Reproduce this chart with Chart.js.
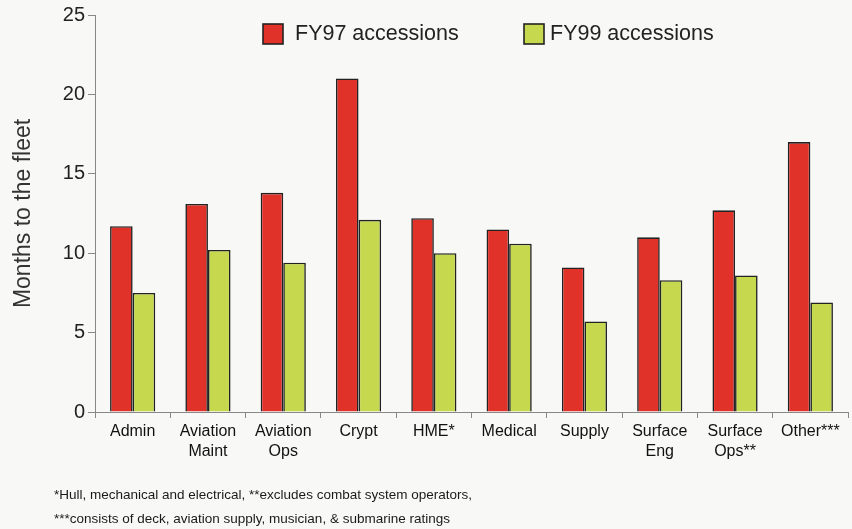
<!DOCTYPE html>
<html>
<head>
<meta charset="utf-8">
<script src="https://cdn.jsdelivr.net/npm/chart.js@4/dist/chart.umd.min.js"></script>
<style>
  html, body { margin: 0; padding: 0; background: #f8f8f6; }
  #wrap { position: relative; width: 852px; height: 529px; }
  #grafico { position: absolute; left: 0; top: 0; }
  .nota { position: absolute; left: 54px; font-family: "Liberation Sans", Arial, sans-serif; font-size: 13.5px; color: #1a1a1a; }
</style>
</head>
<body>
<div id="wrap">
  <canvas id="grafico" width="852" height="529"></canvas>
  <div class="nota" style="top:487px">*Hull, mechanical and electrical, **excludes combat system operators,</div>
  <div class="nota" style="top:511px">***consists of deck, aviation supply, musician, &amp; submarine ratings</div>
</div>
<script>
var categorias = ['Admin', ['Aviation', 'Maint'], ['Aviation', 'Ops'], 'Crypt', 'HME*', 'Medical', 'Supply', ['Surface', 'Eng'], ['Surface', 'Ops**'], 'Other***'];
var fy97 = [11.7, 13.1, 13.8, 21.0, 12.2, 11.5, 9.1, 11.0, 12.7, 17.0];
var fy99 = [7.5, 10.2, 9.4, 12.1, 10.0, 10.6, 5.7, 8.3, 8.6, 6.9];
var ticksY = [0, 5, 10, 15, 20, 25];

document.addEventListener('DOMContentLoaded', function () {
    var ctx = document.getElementById('grafico').getContext('2d');
    var fonte = '"Liberation Sans", Arial, sans-serif';

    // legenda desenhada dentro da área do gráfico, no topo
    var legendaInterna = {
        id: 'legendaInterna',
        afterDraw: function (chart) {
            var c = chart.ctx;
            var area = chart.chartArea;
            var posicoes = [area.left + 168, area.left + 429];
            var gaps = [12, 6];
            c.save();
            c.font = '21.5px ' + fonte;
            c.textBaseline = 'middle';
            chart.data.datasets.forEach(function (ds, i) {
                var x = posicoes[i];
                var y = area.top + 9;
                c.fillStyle = ds.backgroundColor;
                c.fillRect(x, y, 20, 20);
                c.strokeStyle = ds.borderColor;
                c.lineWidth = 1.6;
                c.strokeRect(x, y, 20, 20);
                c.fillStyle = '#222';
                c.fillText(ds.label, x + 20 + gaps[i], y + 10);
            });
            c.restore();
        }
    };

    new Chart(ctx, {
        type: 'bar',
        data: {
            labels: categorias,
            datasets: [{
                label: 'FY97 accessions',
                data: fy97,
                backgroundColor: '#e1322a',
                borderColor: '#222',
                borderWidth: 1.6,
                categoryPercentage: 0.6,
                barPercentage: 1.0
            }, {
                label: 'FY99 accessions',
                data: fy99,
                backgroundColor: '#c6d94e',
                borderColor: '#222',
                borderWidth: 1.6,
                categoryPercentage: 0.6,
                barPercentage: 1.0
            }]
        },
        plugins: [legendaInterna],
        options: {
            responsive: false,
            animation: false,
            layout: { padding: { top: 3, right: 4, left: 0, bottom: 0 } },
            plugins: {
                tooltip: { enabled: false },
                legend: { display: false }
            },
            scales: {
                x: {
                    grid: { display: true, drawOnChartArea: false, offset: true, tickLength: 6, color: '#888' },
                    border: { color: '#888', width: 1 },
                    ticks: { font: { family: fonte, size: 16, lineHeight: 1.25 }, color: '#111', maxRotation: 0, padding: 4 },
                    afterFit: function (scale) { scale.height = 117; }
                },
                y: {
                    min: 0,
                    max: 25,
                    afterBuildTicks: function (scale) {
                        scale.ticks = ticksY.map(function (v) { return { value: v }; });
                    },
                    grid: { display: true, drawOnChartArea: false, tickLength: 7, color: '#888' },
                    border: { color: '#888', width: 1 },
                    ticks: { font: { family: fonte, size: 20 }, color: '#222', padding: 3 },
                    title: {
                        display: true,
                        text: 'Months to the fleet',
                        font: { family: fonte, size: 23 },
                        color: '#333',
                        padding: { top: 10, bottom: 0 }
                    },
                    afterFit: function (scale) { scale.width = 95; }
                }
            }
        }
    });
});
</script>
</body>
</html>
